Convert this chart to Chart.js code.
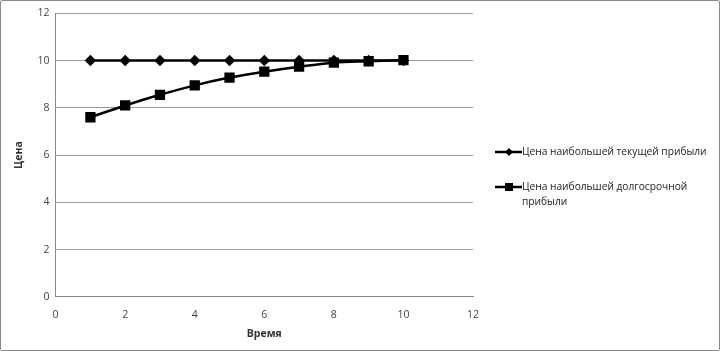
<!DOCTYPE html>
<html>
<head>
<meta charset="utf-8">
<script src="https://cdn.jsdelivr.net/npm/chart.js@4"></script>
<style>
  html, body { margin: 0; padding: 0; background: #fff; }
  #wrap { position: relative; width: 720px; height: 351px; box-sizing: border-box; border: 1px solid #8a8a8a; border-radius: 2px; }
  #c { position: absolute; left: 0; top: 0; }
  .leg { position: absolute; left: 494px; font-family: "Open Sans", sans-serif; font-size: 10.2px; color: #222; line-height: 15px; }
  .leg canvas { position: absolute; left: 0; top: 0; }
  .leg span { display: block; margin-left: 27px; }
</style>
</head>
<body>
<div id="wrap">
  <canvas id="c" width="718" height="349"></canvas>
  <div class="leg" id="leg1" style="top:143px;width:220px"><canvas width="28" height="15"></canvas><span>Цена наибольшей текущей прибыли</span></div>
  <div class="leg" id="leg2" style="top:178px;width:200px"><canvas width="28" height="15"></canvas><span>Цена наибольшей долгосрочной прибыли</span></div>
</div>
<script>
// данные
const time = [1, 2, 3, 4, 5, 6, 7, 8, 9, 10];
const currentProfit = [10, 10, 10, 10, 10, 10, 10, 10, 10, 10];
const longProfit = [7.6, 8.1, 8.55, 8.95, 9.28, 9.53, 9.74, 9.91, 9.97, 10.02];
const labelCurrent = 'Цена наибольшей текущей прибыли';
const labelLong = 'Цена наибольшей долгосрочной прибыли';

function toPoints(ys) {
    return time.map((x, i) => ({ x: x, y: ys[i] }));
}

const ctx = document.getElementById('c').getContext('2d');
const chart = new Chart(ctx, {
    type: 'line',
    data: {
        datasets: [
        {
            label: labelCurrent,
            data: toPoints(currentProfit),
            borderColor: '#000',
            backgroundColor: '#000',
            borderWidth: 2.5,
            pointStyle: 'rectRot',
            pointRadius: 4,
            fill: false
        },
        {
            label: labelLong,
            data: toPoints(longProfit),
            borderColor: '#000',
            backgroundColor: '#000',
            borderWidth: 2.5,
            pointStyle: 'rect',
            pointRadius: 5.5,
            cubicInterpolationMode: 'monotone',
            fill: false
        }
      ]
    },
    options: {
        responsive: false,
        animation: false,
        layout: { padding: { left: 8, right: 246, top: 7, bottom: 6 } },
        plugins: { legend: { display: false }, tooltip: { enabled: false } },
        scales: {
            x: {
                type: 'linear',
                min: 0, max: 12,
                ticks: { stepSize: 2, color: '#444', font: { family: 'Open Sans', size: 10.5 }, padding: 4 },
                grid: { display: false },
                border: { color: '#888', width: 1 },
                title: { display: true, text: 'Время', color: '#333', font: { family: 'Open Sans', size: 10.5, weight: 'bold' }, padding: { top: 2 } }
            },
            y: {
                min: 0, max: 12,
                ticks: { stepSize: 2, color: '#444', font: { family: 'Open Sans', size: 10.5 }, padding: 6 },
                grid: { color: '#999', drawTicks: false },
                border: { color: '#888', width: 1 },
                title: { display: true, text: 'Цена', color: '#333', font: { family: 'Open Sans', size: 10.5, weight: 'bold' }, padding: { bottom: 6 } }
            }
        }
    }
});

// маркеры легенды
function drawLegendMark(id, style) {
    const c = document.querySelector('#' + id + ' canvas').getContext('2d');
    c.strokeStyle = '#000';
    c.lineWidth = 2.5;
    c.beginPath();
    c.moveTo(0, 8);
    c.lineTo(27, 8);
    c.stroke();
    c.fillStyle = '#000';
    if (style === 'diamond') {
        c.beginPath();
        c.moveTo(14, 4); c.lineTo(18, 8); c.lineTo(14, 12); c.lineTo(10, 8);
        c.closePath();
        c.fill();
    } else {
        c.fillRect(10, 4, 8, 8);
    }
}
drawLegendMark('leg1', 'diamond');
drawLegendMark('leg2', 'square');
</script>
</body>
</html>
